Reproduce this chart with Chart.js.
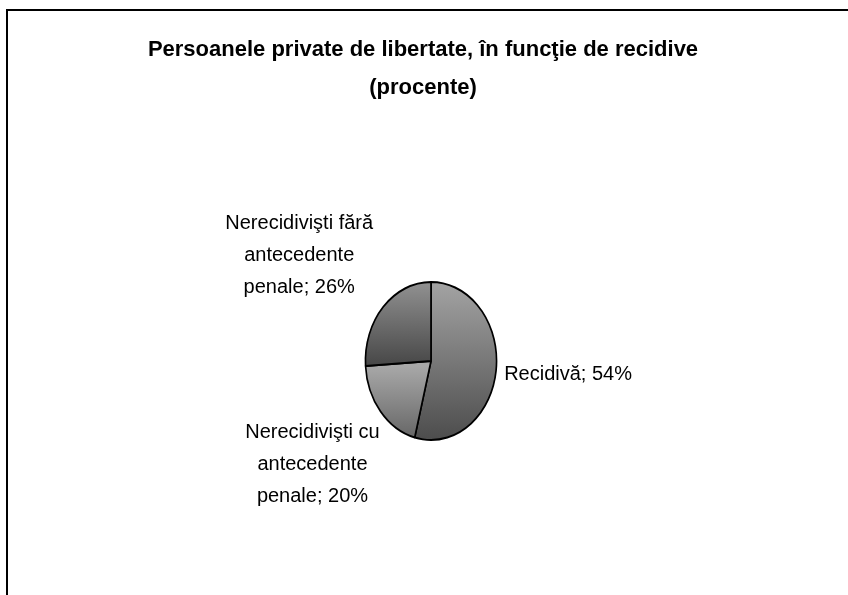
<!DOCTYPE html>
<html>
<head>
<meta charset="utf-8">
<script src="https://cdn.jsdelivr.net/npm/chart.js@4"></script>
<style>
  body { margin: 0; background: #fff; }
  #frame { position: absolute; left: 6px; top: 9px; width: 900px; height: 700px;
           border-left: 2px solid #000; border-top: 2px solid #000; }
  #chart { position: absolute; left: 0; top: 0; }
</style>
</head>
<body>
<div id="frame"></div>
<canvas id="chart" width="848" height="595"></canvas>
<script>
// slice data, clockwise from the top
const categories = [
    ['Recidivă'],
    ['Nerecidivişti cu', 'antecedente', 'penale'],
    ['Nerecidivişti fără', 'antecedente', 'penale']
];
const values = [54, 20, 26];
const titleLines = ['Persoanele private de libertate, în funcţie de recidive', '(procente)'];

// grey gradient per slice (top colour, bottom colour, stop range over pie height)
const sliceShades = [
    ['#a4a4a4', '#4c4c4c', 0, 1],
    ['#a8a8a8', '#686868', 0.53, 0.97],
    ['#929292', '#474747', 0, 0.53]
];
const labelOffsets = [[72, 4], [-68, 53], [-84, -51]];
const xScale = 0.83;   // pie is drawn as an ellipse

function sliceGradient(context) {
    const chart = context.chart;
    const area = chart.chartArea;
    if (!area) return '#888';
    const s = sliceShades[context.dataIndex];
    const h = area.bottom - area.top;
    const g = chart.ctx.createLinearGradient(0, area.top + h * s[2], 0, area.top + h * s[3]);
    g.addColorStop(0, s[0]);
    g.addColorStop(1, s[1]);
    return g;
}

const ellipsePlugin = {
    id: 'ellipse',
    beforeDatasetsDraw(chart) {
        const arc = chart.getDatasetMeta(0).data[0];
        const ctx = chart.ctx;
        ctx.save();
        ctx.translate(arc.x, arc.y);
        ctx.scale(xScale, 1);
        ctx.translate(-arc.x, -arc.y);
    },
    afterDatasetsDraw(chart) {
        chart.ctx.restore();
    }
};

// title centred on the page, not on the pie
const titlePlugin = {
    id: 'pageTitle',
    afterDraw(chart) {
        const ctx = chart.ctx;
        ctx.save();
        ctx.font = 'bold 22px "Liberation Sans", Arial, sans-serif';
        ctx.fillStyle = '#000';
        ctx.textAlign = 'center';
        ctx.textBaseline = 'middle';
        titleLines.forEach((t, i) => ctx.fillText(t, chart.width / 2 - 1, 50 + i * 38));
        ctx.restore();
    }
};

const labelPlugin = {
    id: 'sliceLabels',
    afterDraw(chart) {
        const ctx = chart.ctx;
        ctx.save();
        ctx.font = '20px "Liberation Sans", Arial, sans-serif';
        ctx.fillStyle = '#000';
        ctx.textAlign = 'center';
        ctx.textBaseline = 'middle';
        chart.getDatasetMeta(0).data.forEach((arc, i) => {
            const mid = (arc.startAngle + arc.endAngle) / 2;
            const ax = arc.x + Math.cos(mid) * arc.outerRadius * xScale;
            const ay = arc.y + Math.sin(mid) * arc.outerRadius;
            const lines = categories[i].slice();
            lines[lines.length - 1] += '; ' + values[i] + '%';
            const lh = 32;
            const cx = ax + labelOffsets[i][0];
            const cy = ay + labelOffsets[i][1] - (lines.length - 1) * lh / 2;
            lines.forEach((t, j) => ctx.fillText(t, cx, cy + j * lh));
        });
        ctx.restore();
    }
};

new Chart(document.getElementById('chart'), {
    type: 'pie',
    data: {
        labels: categories.map(c => c.join(' ')),
        datasets: [{
            data: values,
            backgroundColor: sliceGradient,
            borderColor: '#000',
            borderWidth: 2
        }]
    },
    options: {
        responsive: false,
        animation: false,
        layout: { padding: { left: 14, right: 0, top: 281, bottom: 154 } },
        plugins: {
            legend: { display: false },
            tooltip: { enabled: false },
            title: { display: false }
        }
    },
    plugins: [ellipsePlugin, titlePlugin, labelPlugin]
});
</script>
</body>
</html>
